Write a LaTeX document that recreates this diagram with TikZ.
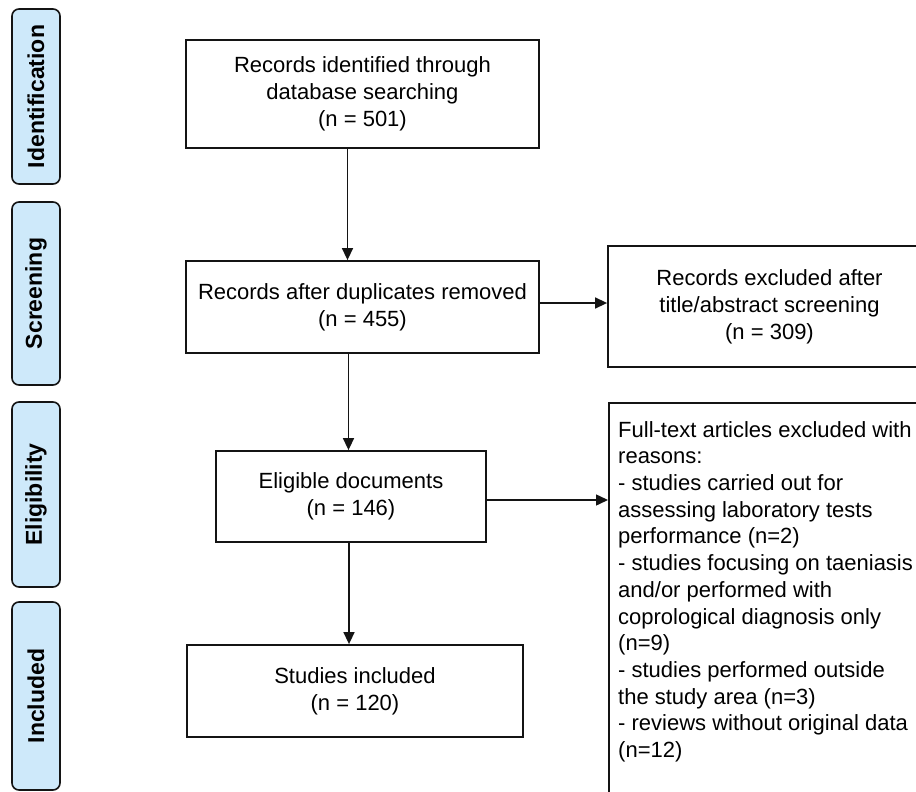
\documentclass[tikz,border=0pt]{standalone}
\usepackage{fontspec}
\setmainfont{Liberation Sans}
\usetikzlibrary{arrows.meta}
\definecolor{stagefill}{RGB}{206,233,250}
\definecolor{linec}{RGB}{20,20,20}
\tikzset{
  flowbox/.style={draw=linec, line width=1.8pt, rectangle, inner sep=0pt, align=center,
    font=\fontsize{22}{27}\selectfont, text=black},
  stagebox/.style={draw=linec, line width=1.6pt, fill=stagefill, rounded corners=7pt,
    minimum width=48pt, inner sep=0pt},
  stagetext/.style={rotate=90, font=\fontsize{23}{27}\selectfont\bfseries, text=black},
  flowarrow/.style={draw=linec, line width=1.5pt, -{Triangle[length=12pt,width=11pt]}}
}
\begin{document}
\begin{tikzpicture}[x=1pt,y=-1pt]
\useasboundingbox (0,0) rectangle (916,792);
\clip (0,0) rectangle (916,792);
% stage labels
\node[stagebox, minimum height=175pt] (sident) at (36,96.5) {};
\node[stagetext] (tident) at (sident.center) {Identification};
\node[stagebox, minimum height=183pt] (sscreen) at (36,293.5) {};
\node[stagetext] (tscreen) at (sscreen.center) {Screening};
\node[stagebox, minimum height=185pt] (selig) at (36,494.5) {};
\node[stagetext] (telig) at (selig.center) {Eligibility};
\node[stagebox, minimum height=188pt] (sincl) at (36,696) {};
\node[stagetext] (tincl) at (sincl.center) {Included};
% flow boxes
\node[flowbox, minimum width=353pt, minimum height=108pt] (rid) at (362.5,94)
  {Records identified through\\database searching\\(n = 501)};
\node[flowbox, minimum width=353pt, minimum height=92pt] (dup) at (362.5,307)
  {Records after duplicates removed\\(n = 455)};
\node[flowbox, minimum width=323pt, minimum height=121pt] (excl) at (769.5,306.5)
  {Records excluded after\\title/abstract screening\\(n = 309)};
\node[flowbox, minimum width=270pt, minimum height=91pt] (elig) at (351,496.5)
  {Eligible documents\\(n = 146)};
\node[flowbox, minimum width=336pt, minimum height=92pt] (incl) at (355,691)
  {Studies included\\(n = 120)};
\node[flowbox, anchor=north west, minimum width=330pt, minimum height=420pt] (full) at (608,402) {};
\node[anchor=north west, align=left, inner sep=0pt, font=\fontsize{22}{26.7}\selectfont] (fulltxt) at (618,421)
  {Full-text articles excluded with\\reasons:\\- studies carried out for\\assessing laboratory tests\\performance (n=2)\\- studies focusing on taeniasis\\and/or performed with\\coprological diagnosis only\\(n=9)\\- studies performed outside\\the study area (n=3)\\- reviews without original data\\(n=12)};
% arrow guide coordinates
\coordinate (ax1) at (347.5,0);
\coordinate (ax2) at (348.5,0);
\coordinate (ax3) at (349,0);
\coordinate (ay1) at (0,303);
\coordinate (ay2) at (0,500);
% arrows
\draw[flowarrow] (rid.south -| ax1) -- (dup.north -| ax1);
\draw[flowarrow] (dup.east |- ay1) -- (excl.west |- ay1);
\draw[flowarrow] (dup.south -| ax2) -- (elig.north -| ax2);
\draw[flowarrow] (elig.east |- ay2) -- (full.west |- ay2);
\draw[flowarrow] (elig.south -| ax3) -- (incl.north -| ax3);
\end{tikzpicture}
\end{document}
